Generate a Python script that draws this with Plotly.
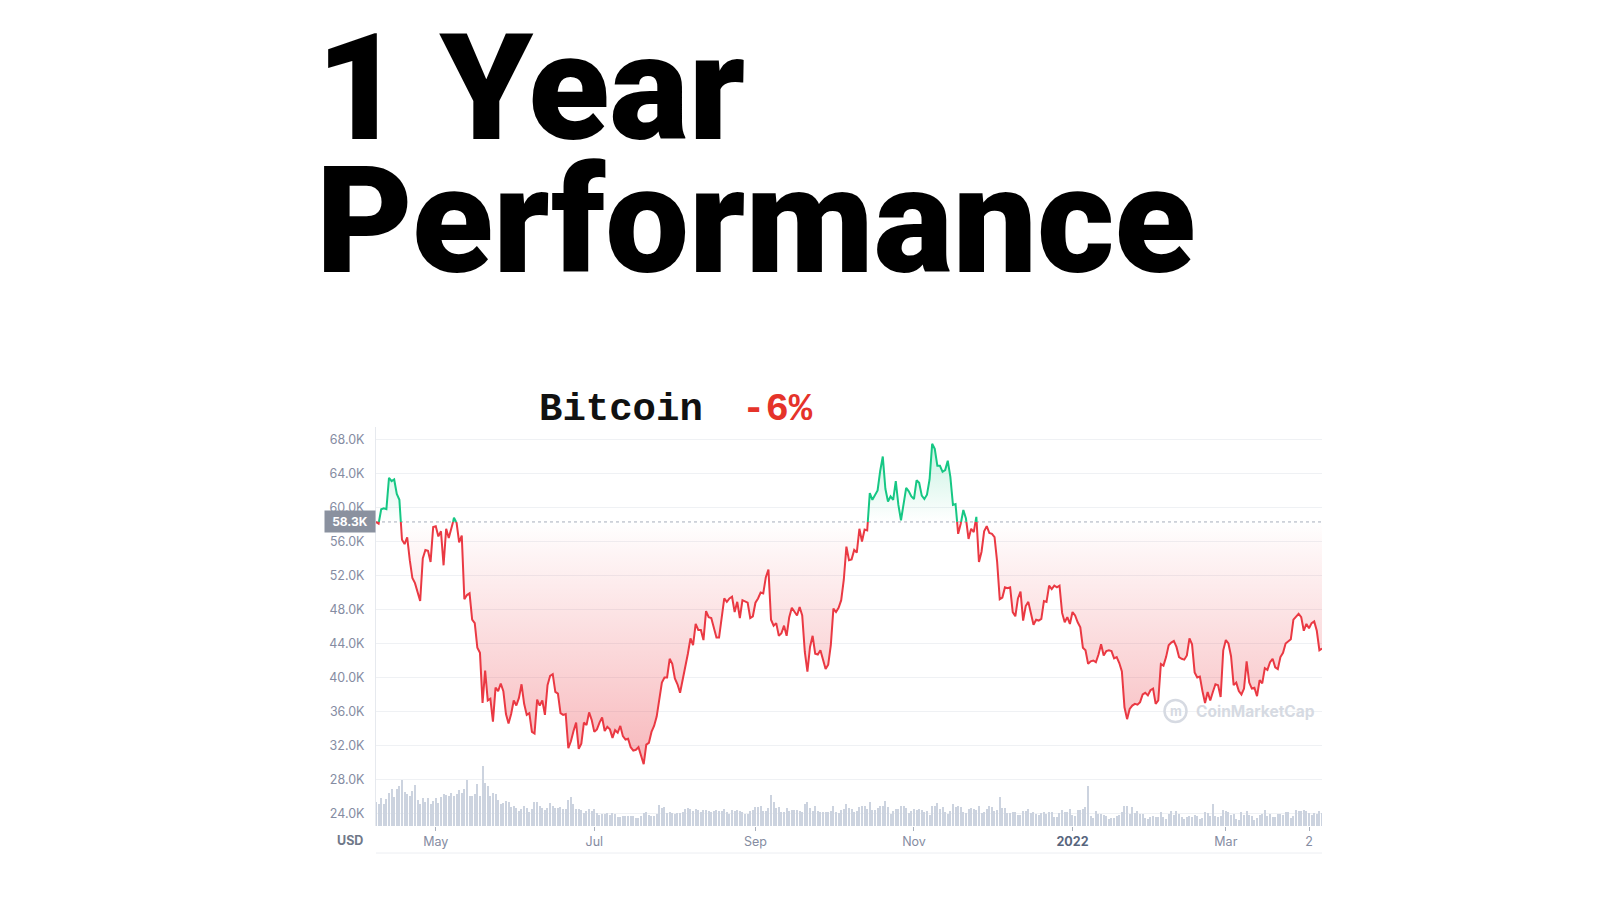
import numpy as np
import pandas as pd
import plotly.graph_objects as go

# ---------------- data (daily, 2021-04-08 .. 2022-04-07) ----------------
start_date = "2021-04-08"
base_price = 58300

price_apr21 = [58300, 58100, 59800, 59900, 59800, 63500, 63100, 63300, 61600, 60900, 56200, 55700,
               56500, 53800, 51700, 51100, 50100, 49000, 54000, 55000, 54900, 53600, 57700]
price_may21 = [57800, 56600, 57200, 53200, 57500, 56400, 57400, 58800, 58200, 55900, 56700, 49200,
               49700, 49900, 46800, 46400, 43500, 42900, 37000, 40800, 37300, 37500, 34800, 38800,
               38400, 39300, 38400, 35700, 34600, 35700, 37300]
price_jun21 = [36700, 37600, 39200, 36900, 35600, 35800, 33600, 33400, 37400, 36700, 37300, 35600,
               39100, 40200, 40400, 38300, 38100, 35800, 35600, 35700, 31700, 32500, 33700, 34700,
               31600, 32200, 34700, 34400, 35900, 35000]
price_jul21 = [33600, 33900, 34700, 35300, 33700, 34200, 33900, 32900, 33800, 33500, 34300, 33100,
               32700, 32800, 31800, 31400, 31500, 31800, 30800, 29800, 32100, 32300, 33600, 34300,
               35400, 37300, 39400, 40000, 40000, 42200, 41600]
price_aug21 = [39900, 39200, 38200, 39700, 40900, 42800, 44600, 43800, 46300, 45600, 45600, 44400,
               47800, 47100, 47000, 45900, 44700, 44700, 46800, 49300, 48900, 49300, 49500, 47700,
               48900, 47000, 49100, 48900, 48800, 47000, 47200]
price_sep21 = [48800, 49300, 50000, 49900, 51800, 52700, 46800, 46100, 46400, 44900, 45200, 46100,
               44900, 47100, 48200, 47800, 47300, 48300, 47300, 43000, 40700, 43600, 44900, 42800,
               42700, 43200, 42200, 41000, 41500, 43800]
price_oct21 = [48100, 47700, 48200, 49100, 51500, 55400, 53800, 53900, 55000, 54700, 57500, 56000,
               57400, 57300, 61700, 60900, 61500, 62000, 64300, 66000, 62200, 60700, 61300, 60900,
               63100, 60300, 58500, 60600, 62300, 61900, 61300]
price_nov21 = [61000, 63200, 62900, 61400, 61000, 61500, 63300, 67500, 66900, 64900, 64900, 64200,
               64400, 65500, 63600, 60300, 60400, 56900, 58100, 59700, 58700, 56300, 57500, 57100,
               58900, 53600, 54800, 57200, 57800, 57000]
price_dec21 = [56900, 56500, 53600, 49200, 49400, 50600, 50500, 50600, 47700, 47200, 49300, 50100,
               46700, 48400, 48900, 47600, 46200, 46800, 46700, 46900, 49000, 48900, 50800, 50400,
               50800, 50600, 50800, 47600, 46500, 47100, 46300]
price_jan22 = [47700, 47300, 46500, 45900, 43500, 43200, 41600, 41900, 42000, 41800, 42700, 43900,
               42600, 43100, 43200, 43100, 42250, 42400, 41700, 40700, 36500, 35100, 36300, 36700,
               36900, 36800, 37100, 38000, 38200, 37900, 38500]
price_feb22 = [38700, 36900, 37300, 41600, 41400, 42400, 43800, 44100, 44300, 43600, 42400, 42200,
               42100, 42600, 44600, 43900, 40600, 40000, 40100, 38400, 37000, 38300, 37300, 38300,
               39200, 39100, 37700, 43200]
price_mar22 = [44400, 44000, 42500, 39100, 39400, 38400, 38000, 38700, 41900, 39400, 38700, 38800,
               37800, 39700, 39300, 41100, 40900, 41800, 42200, 41200, 41000, 42400, 42900, 44000,
               44300, 44500, 46800, 47100, 47500, 47100, 45500]
price_apr22 = [46300, 45800, 46400, 46600, 45500, 43200, 43400]

# volume, billions USD
vol_apr21 = [50, 46, 58, 46, 57, 70, 77, 60, 78, 84, 97, 72, 68, 62, 74, 86, 55, 47, 58, 51, 58, 46, 52]
vol_may21 = [58, 48, 60, 68, 66, 64, 70, 62, 68, 75, 70, 78, 96, 62, 64, 68, 88, 64, 126, 90, 84, 62,
             70, 68, 54, 46, 48, 52, 50, 40, 42]
vol_jun21 = [38, 32, 36, 42, 38, 30, 35, 50, 50, 42, 38, 34, 38, 48, 42, 38, 38, 40, 36, 36, 54, 60,
             46, 36, 36, 34, 28, 32, 36, 32]
vol_jul21 = [36, 28, 24, 26, 26, 27, 24, 28, 25, 19, 18, 22, 20, 22, 22, 21, 16, 17, 20, 27, 30, 23,
             22, 22, 25, 44, 38, 40, 28, 30, 27]
vol_aug21 = [25, 27, 27, 29, 36, 38, 36, 31, 35, 33, 30, 33, 33, 31, 30, 32, 33, 31, 32, 35, 30, 25,
             34, 32, 33, 32, 30, 26, 26, 31, 34]
vol_sep21 = [39, 39, 43, 32, 32, 38, 65, 50, 38, 39, 30, 29, 38, 32, 34, 34, 33, 31, 29, 46, 51, 38,
             32, 43, 31, 30, 30, 30, 30, 32]
vol_oct21 = [42, 30, 28, 33, 36, 47, 37, 36, 29, 32, 39, 41, 41, 36, 51, 33, 34, 37, 43, 42, 52, 39,
             26, 32, 35, 36, 43, 42, 38, 28, 32]
vol_nov21 = [36, 33, 36, 34, 30, 31, 24, 42, 42, 48, 36, 40, 30, 26, 31, 46, 39, 41, 40, 30, 27, 36,
             37, 36, 34, 41, 27, 30, 36, 41]
vol_dec21 = [40, 32, 34, 61, 37, 37, 28, 28, 29, 30, 23, 23, 32, 31, 36, 27, 30, 25, 24, 28, 30, 25,
             30, 29, 18, 19, 28, 34, 30, 29, 36]
vol_jan22 = [24, 21, 33, 33, 36, 39, 84, 22, 17, 32, 26, 25, 24, 22, 15, 16, 17, 22, 23, 30, 43, 43,
             26, 40, 27, 31, 26, 25, 17, 14, 19]
vol_feb22 = [20, 19, 18, 29, 19, 14, 26, 32, 23, 32, 26, 18, 14, 19, 22, 19, 23, 22, 14, 16, 29, 27,
             21, 46, 22, 18, 21, 34]
vol_mar22 = [31, 29, 23, 26, 15, 13, 29, 23, 31, 23, 22, 13, 17, 24, 25, 33, 20, 26, 19, 19, 25, 26,
             24, 30, 30, 17, 20, 34, 31, 32, 34]
vol_apr22 = [32, 27, 23, 28, 26, 32, 27]

y_tick_values = [24000, 28000, 32000, 36000, 40000, 44000, 48000, 52000, 56000, 60000, 64000, 68000]
y_tick_labels = ["24.0K", "28.0K", "32.0K", "36.0K", "40.0K", "44.0K", "48.0K", "52.0K",
                 "56.0K", "60.0K", "64.0K", "68.0K"]
x_tick_dates = ["2021-05-01", "2021-07-01", "2021-09-01", "2021-11-01", "2022-01-01", "2022-03-01", "2022-04-02"]
x_tick_labels = ["May", "Jul", "Sep", "Nov", "<b style='color:#58667e'>2022</b>", "Mar", "2"]

title_line1 = "1 Year"
title_line2 = "Performance"
coin_name = "Bitcoin"
coin_change = "-6%"
base_label = "58.3K"

# ---------------- assemble ----------------
prices = np.array(price_apr21 + price_may21 + price_jun21 + price_jul21 + price_aug21 + price_sep21 +
                  price_oct21 + price_nov21 + price_dec21 + price_jan22 + price_feb22 + price_mar22 +
                  price_apr22, dtype=float)
volumes = np.array(vol_apr21 + vol_may21 + vol_jun21 + vol_jul21 + vol_aug21 + vol_sep21 + vol_oct21 +
                   vol_nov21 + vol_dec21 + vol_jan22 + vol_feb22 + vol_mar22 + vol_apr22, dtype=float)
dates = pd.date_range(start_date, periods=len(prices), freq="D")

# insert baseline crossings so that colour changes exactly at the baseline
t = dates.asi8.astype(float)
xs, ys = [], []
for i in range(len(prices)):
    xs.append(t[i]); ys.append(prices[i])
    if i < len(prices) - 1:
        a = prices[i] - base_price
        b = prices[i + 1] - base_price
        if a * b < 0:
            f = a / (a - b)
            xs.append(t[i] + f * (t[i + 1] - t[i])); ys.append(base_price)
xa = pd.to_datetime(np.array(xs).astype("int64"))
ya = np.array(ys)

GREEN = "#16c784"
RED = "#ea3943"

fig = go.Figure()

# volume bars
fig.add_trace(go.Bar(x=dates, y=volumes, yaxis="y2", marker=dict(color="#ccd3df", line=dict(width=0)),
                     width=0.42 * 86400000, hoverinfo="skip", showlegend=False))

# green fill
fig.add_trace(go.Scatter(x=xa, y=np.full(len(ya), base_price), mode="lines", line=dict(width=0),
                         hoverinfo="skip", showlegend=False))
fig.add_trace(go.Scatter(x=xa, y=np.maximum(ya, base_price), mode="lines", line=dict(width=0),
                         fill="tonexty",
                         fillgradient=dict(type="vertical", start=base_price, stop=float(prices.max()),
                                           colorscale=[[0, "rgba(22,199,132,0.0)"], [1, "rgba(22,199,132,0.24)"]]),
                         hoverinfo="skip", showlegend=False))
# red fill
fig.add_trace(go.Scatter(x=xa, y=np.full(len(ya), base_price), mode="lines", line=dict(width=0),
                         hoverinfo="skip", showlegend=False))
fig.add_trace(go.Scatter(x=xa, y=np.minimum(ya, base_price), mode="lines", line=dict(width=0),
                         fill="tonexty",
                         fillgradient=dict(type="vertical", start=float(prices.min()), stop=base_price,
                                           colorscale=[[0, "rgba(234,57,67,0.36)"], [0.85, "rgba(234,57,67,0.06)"],
                                                       [1, "rgba(234,57,67,0.0)"]]),
                         hoverinfo="skip", showlegend=False))

# baseline dotted
fig.add_trace(go.Scatter(x=[dates[0], dates[-1]], y=[base_price, base_price], mode="lines",
                         line=dict(color="#a6adbb", width=1, dash="dot"), hoverinfo="skip", showlegend=False))

# price lines
fig.add_trace(go.Scatter(x=xa, y=np.where(ya >= base_price, ya, np.nan), mode="lines",
                         line=dict(color=GREEN, width=2), connectgaps=False, showlegend=False))
fig.add_trace(go.Scatter(x=xa, y=np.where(ya <= base_price, ya, np.nan), mode="lines",
                         line=dict(color=RED, width=2), connectgaps=False, showlegend=False))

W, H = 1600, 900
x0, x1 = 376 / W, 1322 / W
yb, yt = 1 - 826 / H, 1 - 427 / H

tick_font = dict(family="Inter, Roboto, sans-serif", size=12.5, color="#858ca2")

fig.update_layout(
    width=W, height=H, autosize=False,
    margin=dict(l=0, r=0, t=0, b=0),
    paper_bgcolor="white", plot_bgcolor="white",
    bargap=0,
    xaxis=dict(type="date", domain=[x0, x1], range=[dates[0], dates[-1]], showgrid=False, zeroline=False,
               tickvals=x_tick_dates, ticktext=x_tick_labels, ticks="outside", ticklen=4,
               tickcolor="#aab1bd", tickfont=tick_font, showline=False, fixedrange=True),
    yaxis=dict(domain=[yb, yt], range=[22530, 69470], tickvals=y_tick_values, ticktext=y_tick_labels,
               showgrid=True, gridcolor="#eff1f4", gridwidth=1, zeroline=False,
               showline=True, linecolor="#e6e9ee", linewidth=1,
               ticks="outside", ticklen=8, tickcolor="rgba(0,0,0,0)", tickfont=tick_font),
    yaxis2=dict(overlaying="y", range=[0, 838], visible=False, fixedrange=True),
)

title_font = dict(family="Roboto", size=149, color="black", weight=900)
mono = "Liberation Mono, Courier New, monospace"
annotations = [
    dict(text=title_line1, x=314 / W, y=1 - 88 / H, xref="paper", yref="paper", xanchor="left", yanchor="middle",
         height=116, showarrow=False, font=title_font),
    dict(text=title_line2, x=314 / W, y=1 - 221 / H, xref="paper", yref="paper", xanchor="left", yanchor="middle",
         height=130, showarrow=False, font=title_font),
    dict(text=f"<b>{coin_name}</b>", x=537 / W, y=1 - 410 / H, xref="paper", yref="paper", xanchor="left",
         yanchor="middle", showarrow=False, font=dict(family=mono, size=39, color="#111111")),
    dict(text=f"<b>{coin_change}</b>", x=740 / W, y=1 - 410 / H, xref="paper", yref="paper", xanchor="left",
         yanchor="middle", showarrow=False, font=dict(family=mono, size=39, color="#e5332a")),
    dict(text=f"<b>{base_label}</b>", x=x0, y=base_price, xref="paper", yref="y", xanchor="right", yanchor="middle",
         showarrow=False, bgcolor="#8a919f", borderpad=3, width=44,
         font=dict(family="Inter, Roboto, sans-serif", size=12, color="white")),
    dict(text="<b>USD</b>", x=350 / W, y=1 - 840 / H, xref="paper", yref="paper", xanchor="center", yanchor="middle",
         showarrow=False, font=dict(family="Inter, Roboto, sans-serif", size=12.5, color="#6f7888")),
    dict(text="<b>CoinMarketCap</b>", x=1194 / W, y=1 - 711 / H, xref="paper", yref="paper", xanchor="left",
         yanchor="middle", showarrow=False, font=dict(family="Inter, Roboto, sans-serif", size=15.5, color="#d6dae2")),
    dict(text="<b>m</b>", x=1175.5 / W, y=1 - 711 / H, xref="paper", yref="paper", xanchor="center",
         yanchor="middle", showarrow=False, font=dict(family="Inter, Roboto, sans-serif", size=13, color="#d6dae2")),
]
fig.update_layout(annotations=annotations)

fig.add_shape(type="circle", xref="paper", yref="paper",
              x0=(1175.5 - 11) / W, x1=(1175.5 + 11) / W, y0=1 - (711 + 11) / H, y1=1 - (711 - 11) / H,
              line=dict(color="#d6dae2", width=2.5))
fig.add_shape(type="line", xref="paper", yref="paper", x0=x0, x1=x1, y0=1 - 853 / H, y1=1 - 853 / H,
              line=dict(color="#eceef2", width=1))

fig.write_html("out.html", config={"displayModeBar": False},
               post_script="document.body.style.margin='0';")
